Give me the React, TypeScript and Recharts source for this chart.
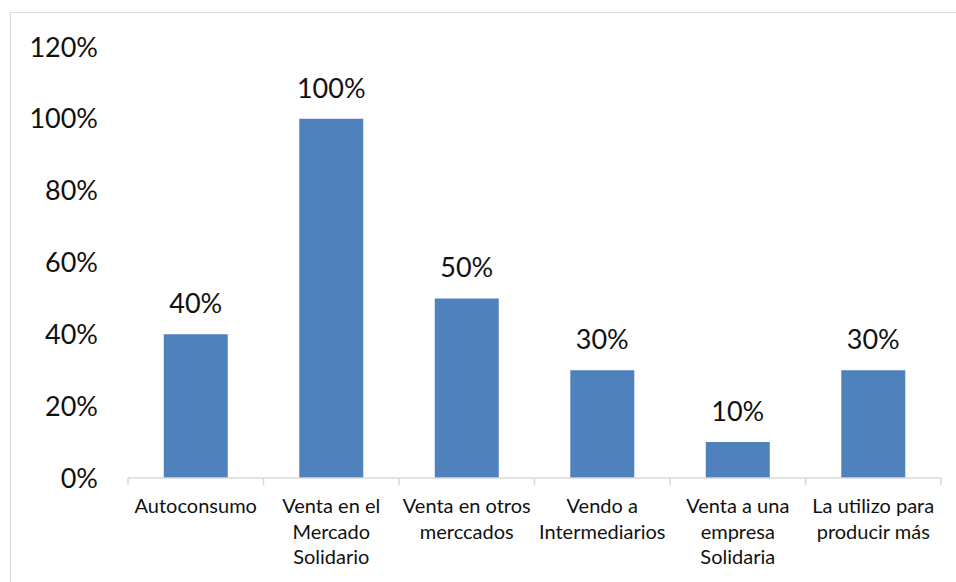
import { Bar, BarChart, LabelList, XAxis, YAxis } from "recharts";

const categories = [
  "Autoconsumo",
  "Venta en el|Mercado|Solidario",
  "Venta en otros|merccados",
  "Vendo a|Intermediarios",
  "Venta a una|empresa|Solidaria",
  "La utilizo para|producir más",
];
const shares = [0.4, 1.0, 0.5, 0.3, 0.1, 0.3];
const yTicks = [0, 0.2, 0.4, 0.6, 0.8, 1.0, 1.2];

const data = categories.map((name, i) => ({ name, value: shares[i] }));

const FONT = "Lato, 'Open Sans', sans-serif";
const pct = (v: number) => `${Math.round(v * 100)}%`;

// multi-line category label plus the boundary tick marks Excel draws between bars
function CategoryTick(props: any) {
  const { x, y, payload, index, visibleTicksCount, width } = props;
  const half = width / (visibleTicksCount || categories.length) / 2;
  const lines = String(payload.value).split("|");
  return (
    <g>
      <line x1={x - half} x2={x - half} y1={y - 8} y2={y - 1} stroke="#d9d9d9" strokeWidth={1.5} />
      {index === categories.length - 1 && (
        <line x1={x + half} x2={x + half} y1={y - 8} y2={y - 1} stroke="#d9d9d9" strokeWidth={1.5} />
      )}
      <text x={x} y={y + 27} textAnchor="middle" fill="#111" fontSize={20} fontFamily={FONT}>
        {lines.map((l, i) => (
          <tspan key={i} x={x} dy={i === 0 ? 0 : 25.5}>
            {l}
          </tspan>
        ))}
      </text>
    </g>
  );
}

export default function App() {
  return (
    <div style={{ position: "relative", width: 956, height: 582, overflow: "hidden" }}>
      <style>{"html,body{margin:0;padding:0;overflow:hidden;background:#fff}"}</style>
      <BarChart
        width={956}
        height={582}
        data={data}
        margin={{ top: 47, right: 15, bottom: 0, left: 0 }}
        barCategoryGap="26.4%"
      >
        <XAxis
          dataKey="name"
          height={104}
          interval={0}
          axisLine={{ stroke: "#d9d9d9", strokeWidth: 1.5 }}
          tickLine={false}
          tickSize={8}
          tickMargin={0}
          tick={<CategoryTick />}
        />
        <YAxis
          width={128}
          domain={[0, 1.2]}
          ticks={yTicks}
          tickFormatter={pct}
          axisLine={false}
          tickLine={false}
          tickSize={0}
          tickMargin={30}
          tick={{ fill: "#111", fontSize: 27, fontFamily: FONT }}
        />
        <Bar dataKey="value" fill="#4F81BD" isAnimationActive={false}>
          <LabelList
            dataKey="value"
            position="top"
            offset={21}
            formatter={(v: any) => pct(Number(v))}
            fill="#111"
            fontSize={27}
            fontFamily={FONT}
          />
        </Bar>
      </BarChart>
      <div
        style={{
          position: "absolute",
          left: 10,
          top: 12,
          width: 960,
          height: 600,
          borderTop: "1.5px solid #d9d9d9",
          borderLeft: "1.5px solid #d9d9d9",
          pointerEvents: "none",
        }}
      />
    </div>
  );
}
